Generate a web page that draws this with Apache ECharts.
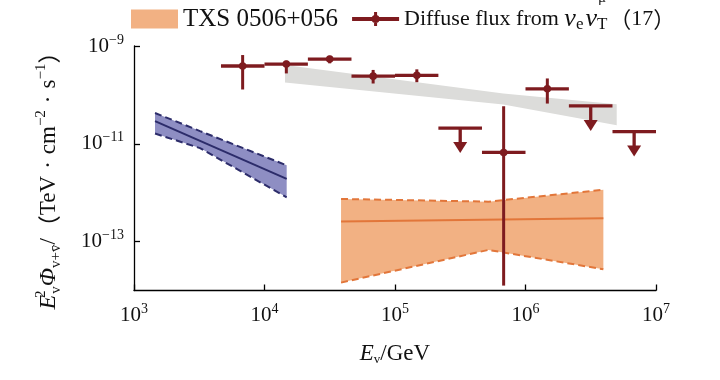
<!DOCTYPE html>
<html><head><meta charset="utf-8">
<script src="https://cdn.jsdelivr.net/npm/echarts@6/dist/echarts.min.js"></script>
<style>html,body{margin:0;padding:0;background:#fff}#c{width:720px;height:380px}</style>
</head><body><div id="c"></div>
<script>
// ---- tick labels (exponents of 10) ----
const xTickExps = [3, 4, 5, 6, 7];
const yTickExps = [-13, -11, -9];

// ---- TXS 0506+056 band (E in GeV, flux in TeV cm^-2 s^-1) ----
const txsE = [3.86e4, 5.2e5, 3.95e6];
const txsUpper = [7.46e-13, 6.56e-13, 1.15e-12];
const txsLower = [1.45e-14, 6.76e-14, 2.72e-14];
const txsCentralE = [3.86e4, 3.95e6];
const txsCentral = [2.59e-13, 3.02e-13];

// ---- blue band ----
const blueE = [1449, 3206, 14791];
const blueUpper = [4.27e-11, 1.82e-11, 3.63e-12];
const blueLower = [1.62e-11, 8.17e-12, 8.05e-13];
const blueCentralE = [1449, 14791];
const blueCentral = [2.92e-11, 1.92e-12];

// ---- gray band ----
const grayE = [14355, 6.76e5, 5.0e6];
const grayUpper = [4.07e-10, 1.07e-10, 6.46e-11];
const grayLower = [1.80e-10, 6.35e-11, 2.39e-11];

// ---- diffuse flux points ----
const binLo = [4.64e3, 1.0e4, 2.15e4, 4.64e4, 1.0e5, 2.15e5, 4.64e5, 1.0e6, 2.15e6, 4.64e6];
const binHi = [1.0e4, 2.15e4, 4.64e4, 1.0e5, 2.15e5, 4.64e5, 1.0e6, 2.15e6, 4.64e6, 1.0e7];
const binCenter = [6.8e3, 1.47e4, 3.16e4, 6.8e4, 1.47e5, 3.16e5, 6.8e5, 1.47e6, 3.16e6, 6.8e6];
const fluxVal = [3.9e-10, 4.27e-10, 5.4e-10, 2.42e-10, 2.51e-10, 2.1e-11, 6.65e-12, 1.33e-10, 5.94e-11, 1.78e-11];
const fluxLo = [1.29e-10, 2.75e-10, 4.42e-10, 1.71e-10, 1.82e-10, null, 1.26e-14, 6.65e-11, null, null];
const fluxHi = [6.53e-10, 5.0e-10, 6.3e-10, 3.24e-10, 3.33e-10, null, 5.86e-11, 2.17e-10, null, null];
const isUpperLimit = [0, 0, 0, 0, 0, 1, 0, 0, 1, 1];

const SERIF = '"Liberation Serif", "Times New Roman", serif';
const CJK = '"Noto Sans CJK SC", "Liberation Serif", serif';
const RED = '#7e1b1f';
const ORANGE_FILL = '#f2b183';
const ORANGE_LINE = '#e2763a';
const BLUE_FILL = '#8e8ec3';
const BLUE_LINE = '#2c2c6a';
const GRAY_FILL = '#dcdcda';
const INK = '#111';

function bandRender(xs, up, lo, color) {
  return function (params, api) {
    if (params.dataIndex !== 0) return;
    const pts = [];
    for (let i = 0; i < xs.length; i++) pts.push(api.coord([xs[i], up[i]]));
    for (let i = xs.length - 1; i >= 0; i--) pts.push(api.coord([xs[i], lo[i]]));
    return { type: 'polygon', shape: { points: pts }, style: { fill: color } };
  };
}
function bandData(xs, up, lo) { return xs.map((x, i) => [x, up[i], lo[i]]); }
function lineSeries(xs, ys, color, dashed, w) {
  return {
    type: 'line', data: xs.map((x, i) => [x, ys[i]]), showSymbol: false, silent: true,
    lineStyle: { color: color, width: w, type: dashed ? [7, 4] : 'solid' }, z: 3
  };
}

const supRich = {
  b: { fontFamily: SERIF, fontSize: 21, color: INK, lineHeight: 26, verticalAlign: 'middle' },
  s: { fontFamily: SERIF, fontSize: 14, color: INK, lineHeight: 14, verticalAlign: 'top' }
};

const chart = echarts.init(document.getElementById('c'), null, { renderer: 'canvas' });
const option = {
  animation: false,
  backgroundColor: '#fff',
  grid: { left: 134, right: 64, top: 46, bottom: 89.5 },
  legend: {
    left: 131, top: 6, padding: 0, itemWidth: 47, itemHeight: 19, itemGap: 14, selectedMode: false,
    data: [
      { name: 'TXS 0506+056', icon: 'rect', itemStyle: { color: ORANGE_FILL } },
      { name: 'diffuse', icon: 'path://M23.5,0M23.5,19M0,7.6H47V11.4H0ZM22,2.5H25V16.5H22ZM27.5,9.5A4,4,0,1,1,19.5,9.5A4,4,0,1,1,27.5,9.5Z', itemStyle: { color: RED } }
    ],
    formatter: function (name) {
      if (name === 'TXS 0506+056') return '{t|TXS 0506+056}';
      return '{n|Diffuse flux from }{iv|v}{sub|e}{iv|v}{sub|T}{c|（}{n|17}{c|）}';
    },
    textStyle: {
      fontFamily: SERIF, fontSize: 22, color: INK,
      rich: {
        t: { fontFamily: SERIF, fontSize: 25, color: INK, lineHeight: 28, verticalAlign: 'middle' },
        n: { fontFamily: SERIF, fontSize: 22, color: INK, lineHeight: 28, verticalAlign: 'middle' },
        c: { fontFamily: CJK, fontSize: 22, color: INK, lineHeight: 28, verticalAlign: 'middle' },
        iv: { fontFamily: SERIF, fontSize: 26, fontStyle: 'italic', color: INK, lineHeight: 28, verticalAlign: 'middle' },
        sub: { fontFamily: SERIF, fontSize: 17, color: INK, lineHeight: 13, verticalAlign: 'bottom', padding: [0, 2, 0, 0] }
      }
    }
  },
  xAxis: {
    type: 'log', logBase: 10, min: 1e3, max: 1e7,
    axisLine: { onZero: false, lineStyle: { color: '#000', width: 1.3 } },
    axisTick: { inside: true, length: 6, lineStyle: { color: '#000', width: 1.3 } },
    splitLine: { show: false },
    axisLabel: {
      margin: 12,
      formatter: v => '{b|10}{s|' + Math.round(Math.log10(v)) + '}',
      rich: supRich
    },
    name: '{i|E}{sub|v}{n|/GeV}', nameLocation: 'middle', nameGap: 50,
    nameTextStyle: {
      rich: {
        i: { fontFamily: SERIF, fontSize: 23, fontStyle: 'italic', color: INK, lineHeight: 26, verticalAlign: 'middle' },
        n: { fontFamily: SERIF, fontSize: 23, color: INK, lineHeight: 26, verticalAlign: 'middle' },
        sub: { fontFamily: SERIF, fontSize: 13, color: INK, lineHeight: 11, verticalAlign: 'bottom' }
      }
    }
  },
  yAxis: [
    {
      type: 'log', logBase: 10, min: 1e-14, max: 1e-9,
      axisLine: { show: true, onZero: false, lineStyle: { color: '#000', width: 1.3 } },
      axisTick: { show: false }, axisLabel: { show: false }, splitLine: { show: false }
    },
    {
      type: 'value', min: -14, max: -9, position: 'left',
      axisLine: { show: false },
      axisTick: { show: true, inside: true, length: 6, customValues: yTickExps, lineStyle: { color: '#000', width: 1.3 } },
      axisLabel: {
        margin: 10, customValues: yTickExps,
        formatter: v => '{b|10}{s|−' + Math.abs(v) + '}',
        rich: supRich
      },
      splitLine: { show: false }
    }
  ],
  graphic: [
    { type: 'text', x: 598, y: -9, silent: true, style: { text: 'μ', font: '15px ' + SERIF, fill: '#222' } },
    {
      type: 'text', x: 49, y: 175, rotation: Math.PI / 2, silent: true,
      style: {
        text: '{i|E}{s2|2}{sv|v}{i|Φ}{sv|v+v̄}{n|/}{c|（}{n|TeV}{d|·}{n|cm}{sp|−2}{d|·}{n|s}{sp|−1}{c|）}',
        align: 'center', verticalAlign: 'middle',
        rich: {
          i: { fontFamily: SERIF, fontSize: 24, fontStyle: 'italic', fill: INK, lineHeight: 30, verticalAlign: 'middle' },
          n: { fontFamily: SERIF, fontSize: 23, fill: INK, lineHeight: 30, verticalAlign: 'middle' },
          c: { fontFamily: CJK, fontSize: 23, fill: INK, lineHeight: 30, verticalAlign: 'middle' },
          d: { fontFamily: SERIF, fontSize: 23, fill: INK, lineHeight: 30, verticalAlign: 'middle', padding: [0, 7, 0, 7] },
          s2: { fontFamily: SERIF, fontSize: 15, fill: INK, lineHeight: 12, verticalAlign: 'top', width: 1 },
          sp: { fontFamily: SERIF, fontSize: 15, fill: INK, lineHeight: 12, verticalAlign: 'top' },
          sv: { fontFamily: SERIF, fontSize: 15, fill: INK, lineHeight: 10, verticalAlign: 'bottom' }
        }
      }
    }
  ],
  series: [
    { type: 'custom', name: 'gray', silent: true, renderItem: bandRender(grayE, grayUpper, grayLower, GRAY_FILL),
      data: bandData(grayE, grayUpper, grayLower), encode: { x: 0, y: [1, 2] }, z: 1 },
    { type: 'custom', name: 'blue', silent: true, renderItem: bandRender(blueE, blueUpper, blueLower, BLUE_FILL),
      data: bandData(blueE, blueUpper, blueLower), encode: { x: 0, y: [1, 2] }, z: 2 },
    lineSeries(blueE, blueUpper, BLUE_LINE, true, 2),
    lineSeries(blueE, blueLower, BLUE_LINE, true, 2),
    lineSeries(blueCentralE, blueCentral, BLUE_LINE, false, 2),
    { type: 'custom', name: 'TXS 0506+056', silent: true, itemStyle: { color: ORANGE_FILL },
      renderItem: bandRender(txsE, txsUpper, txsLower, ORANGE_FILL),
      data: bandData(txsE, txsUpper, txsLower), encode: { x: 0, y: [1, 2] }, z: 2 },
    lineSeries(txsE, txsUpper, ORANGE_LINE, true, 2),
    lineSeries(txsE, txsLower, ORANGE_LINE, true, 2),
    lineSeries(txsCentralE, txsCentral, ORANGE_LINE, false, 2),
    {
      type: 'custom', name: 'diffuse', silent: true, itemStyle: { color: RED }, z: 5,
      data: binCenter.map((x, i) => [x, fluxVal[i]]), encode: { x: 0, y: 1 },
      renderItem: function (params, api) {
        const i = params.dataIndex;
        const c = api.coord([binCenter[i], fluxVal[i]]);
        const l = api.coord([binLo[i], fluxVal[i]]);
        const r = api.coord([binHi[i], fluxVal[i]]);
        const st = { stroke: RED, lineWidth: 3.3 };
        const children = [{ type: 'line', shape: { x1: l[0], y1: l[1], x2: r[0], y2: r[1] }, style: st }];
        if (isUpperLimit[i]) {
          children.push({ type: 'line', shape: { x1: c[0], y1: c[1], x2: c[0], y2: c[1] + 15 }, style: st });
          children.push({ type: 'polygon', shape: { points: [[c[0] - 7, c[1] + 14], [c[0] + 7, c[1] + 14], [c[0], c[1] + 25]] }, style: { fill: RED } });
        } else {
          const lo = api.coord([binCenter[i], fluxLo[i]]);
          const hi = api.coord([binCenter[i], fluxHi[i]]);
          children.push({ type: 'line', shape: { x1: c[0], y1: lo[1], x2: c[0], y2: hi[1] }, style: { stroke: RED, lineWidth: 3 } });
          children.push({ type: 'circle', shape: { cx: c[0], cy: c[1], r: 3.8 }, style: { fill: RED } });
        }
        return { type: 'group', children: children };
      }
    }
  ]
};
chart.setOption(option);
</script>
</body></html>
